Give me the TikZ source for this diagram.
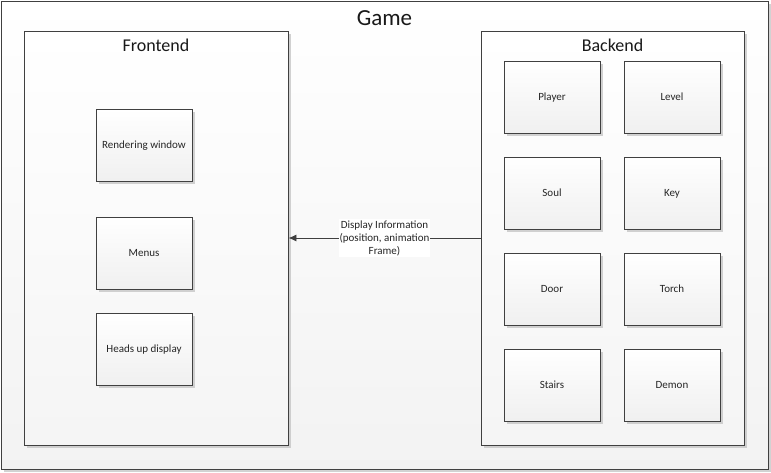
\documentclass[tikz,border=0pt]{standalone}
\usepackage{fontspec}
\setmainfont{Carlito}
\usetikzlibrary{shadows,arrows.meta}
\definecolor{edge}{HTML}{404040}
\tikzset{
  panel/.style={draw=edge, line width=0.9pt, rectangle, top color=white, bottom color=black!6,
    drop shadow={shadow xshift=2.5pt, shadow yshift=-2.5pt, fill=black!25, opacity=.7}},
  item/.style={panel, minimum width=96pt, minimum height=72pt, inner sep=0pt,
    text height=8pt, text depth=1pt,
    font=\fontsize{11}{13}\selectfont, text=black!85},
  titletext/.style={font=\fontsize{18}{20}\selectfont, text=black!90}
}
\begin{document}
\begin{tikzpicture}[x=1pt,y=-1pt]
\useasboundingbox (0,0) rectangle (771,472);
\node[panel, minimum width=767pt, minimum height=468pt, inner sep=0pt, bottom color=black!5] (game) at (384.5,235) {};
\node[font=\fontsize{23}{25}\selectfont, text=black!90] (gametitle) at (384.5,18) {Game};
\node[panel, top color=white, bottom color=black!4, minimum width=264pt, minimum height=414pt, inner sep=0pt] (frontend) at (156,238) {};
\node[titletext] (fronttitle) at (156,45) {Frontend};
\node[panel, top color=white, bottom color=black!4, minimum width=263pt, minimum height=414pt, inner sep=0pt] (backend) at (612.5,238) {};
\node[titletext] (backtitle) at (612.5,45) {Backend};
\node[item] (render) at (144,145) {Rendering window};
\node[item] (menus) at (144,253) {Menus};
\node[item] (hud) at (144,349) {Heads up display};
\node[item] (player) at (552,97) {Player};
\node[item] (level) at (672,97) {Level};
\node[item] (soul) at (552,193) {Soul};
\node[item] (key) at (672,193) {Key};
\node[item] (door) at (552,289) {Door};
\node[item] (torch) at (672,289) {Torch};
\node[item] (stairs) at (552,385) {Stairs};
\node[item] (demon) at (672,385) {Demon};
\draw[draw=edge, line width=0.9pt, -{Latex[length=8pt,width=7pt]}] (backend.west) -- (frontend.east)
  node[midway, fill=white, align=center, inner sep=1pt, font=\fontsize{11}{13}\selectfont, text=black!85] (info)
  {Display Information\\(position, animation\\Frame)};
\end{tikzpicture}
\end{document}
